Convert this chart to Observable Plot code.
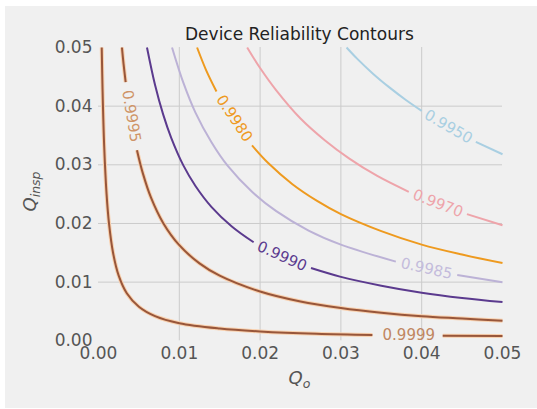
<!DOCTYPE html>
<html><head><meta charset="utf-8">
<script src="https://cdn.jsdelivr.net/npm/d3@7"></script>
<script src="https://cdn.jsdelivr.net/npm/@observablehq/plot@0.6"></script>
<style>
body{margin:0;background:#fff;width:537px;height:409px;overflow:hidden;font-family:"DejaVu Sans",sans-serif}
#fig{position:absolute;left:5px;top:6px;width:532px;height:402px;background:#f0f0f0}
</style>
</head><body><div id="fig"></div>
<script>
// ---- data (Qo, Qinsp), split where each contour label sits ----
const levels = ["0.9950","0.9970","0.9980","0.9985","0.9990","0.9995","0.9999"];
const xTicks = [0, 0.01, 0.02, 0.03, 0.04, 0.05];
const yTicks = [0, 0.01, 0.02, 0.03, 0.04, 0.05];

const r9950_before = [[0.0307,0.05],[0.032,0.0481],[0.034,0.0455],[0.036,0.0432],[0.038,0.0411],[0.04,0.0392]];
const r9950_after  = [[0.0467,0.0339],[0.05,0.0318]];
const r9970_before = [[0.0184,0.05],[0.02,0.0465],[0.022,0.0427],[0.025,0.0379],[0.028,0.0342],[0.031,0.0311],[0.0345,0.0281],[0.0384,0.0254]];
const r9970_after  = [[0.0456,0.0216],[0.05,0.0197]];
const r9980_before = [[0.0122,0.05],[0.0133,0.0462],[0.0146,0.0425]];
const r9980_after  = [[0.019,0.0333],[0.021,0.0303],[0.024,0.0267],[0.027,0.0239],[0.03,0.0216],[0.035,0.0187],[0.04,0.0164],[0.045,0.0147],[0.05,0.01325]];
const r9985_before = [[0.0091,0.05],[0.0105,0.044],[0.012,0.0389],[0.014,0.0338],[0.016,0.0298],[0.019,0.0254],[0.022,0.0221],[0.026,0.0188],[0.03,0.0164],[0.0368,0.0135]];
const r9985_after  = [[0.0444,0.0112],[0.05,0.01]];
const r9990_before = [[0.006,0.05],[0.007,0.0436],[0.008,0.0386],[0.009,0.0346],[0.0105,0.0299],[0.012,0.0264],[0.014,0.0228],[0.0165,0.0195],[0.0192,0.0168]];
const r9990_after  = [[0.0263,0.0124],[0.03,0.0109],[0.035,0.0094],[0.04,0.0082],[0.045,0.0073],[0.05,0.0066]];
const r9995_before = [[0.0029,0.05],[0.0031,0.0472],[0.00336,0.0441]];
const r9995_after  = [[0.00476,0.0325],[0.0055,0.0285],[0.0065,0.0244],[0.008,0.0201],[0.01,0.0163],[0.0125,0.0132],[0.015,0.0111],[0.02,0.0084],[0.025,0.0067],[0.03,0.0056],[0.035,0.0048],[0.04,0.0042],[0.045,0.0038],[0.05,0.0034]];
const r9999_before = [[0.0004,0.05],[0.0005,0.0429],[0.0007,0.0333],[0.001,0.025],[0.0013,0.02],[0.0018,0.015],[0.0025,0.0111],[0.0035,0.0081],[0.005,0.0058],[0.007,0.0042],[0.01,0.003],[0.015,0.0021],[0.02,0.0016],[0.027,0.0012],[0.0339,0.001]];
const r9999_after  = [[0.0426,0.00088],[0.05,0.0008]];

// label anchor points (Qo, Qinsp) on each contour
const labelQo = [0.0433, 0.042, 0.0168, 0.0406, 0.0227, 0.00406, 0.0384];
const labelQi = [0.0365, 0.0234, 0.0379, 0.0123, 0.0144, 0.0383, 0.00094];

// ---- styles ----
const lineColors  = ["#a9cfe2","#eea4aa","#ee9a1f","#bcb2d6","#5b3a8e","#98563a","#98563a"];
const labelColors = ["#a9cfe2","#eea4aa","#ee9a1f","#c4bcdc","#5b3a8e","#cf9467","#c08660"];
const labelAngle  = [30, 21, 56.7, 12.4, 24.2, 80.6, 0];
const halo        = [false,false,false,false,false,true,true];

const segments = [
  [r9950_before, r9950_after],
  [r9970_before, r9970_after],
  [r9980_before, r9980_after],
  [r9985_before, r9985_after],
  [r9990_before, r9990_after],
  [r9995_before, r9995_after],
  [r9999_before, r9999_after]
];

const marks = [
  Plot.gridX({ticks: xTicks.slice(1, -1), stroke: "#cbcbcb", strokeOpacity: 1, strokeWidth: 1}),
  Plot.gridY({ticks: yTicks.slice(1, -1), stroke: "#cbcbcb", strokeOpacity: 1, strokeWidth: 1})
];
levels.forEach((lev, i) => {
  for (const seg of segments[i]) {
    if (halo[i]) marks.push(Plot.line(seg, {x: d => d[0], y: d => d[1], stroke: "#f8d0ae", strokeWidth: 4, curve: "catmull-rom", strokeLinecap: "butt"}));
    marks.push(Plot.line(seg, {x: d => d[0], y: d => d[1], stroke: lineColors[i], strokeWidth: 2, curve: "catmull-rom", strokeLinecap: "butt"}));
  }
  marks.push(Plot.text([[labelQo[i], labelQi[i]]], {
    x: d => d[0], y: d => d[1], text: () => lev,
    rotate: labelAngle[i], fill: labelColors[i], fontSize: 15,
    textAnchor: "middle", lineAnchor: "middle"
  }));
});
marks.push(
  Plot.axisX({ticks: xTicks, tickFormat: d => d.toFixed(2), tickSize: 0, tickPadding: 6, label: null, fontSize: 17}),
  Plot.axisY({ticks: yTicks, tickFormat: d => d.toFixed(2), tickSize: 0, tickPadding: 6, label: null, fontSize: 17})
);

const svg = Plot.plot({
  width: 532, height: 402,
  marginLeft: 93, marginRight: 35, marginTop: 41, marginBottom: 67.7,
  x: {domain: [0, 0.05], label: null},
  y: {domain: [0, 0.05], label: null},
  style: {background: "transparent", color: "#555", fontFamily: "DejaVu Sans", fontSize: "17px", overflow: "visible"},
  marks
});

const s = d3.select(svg);
s.append("text").attr("x", 294.4).attr("y", 34).attr("text-anchor", "middle")
  .attr("fill", "#222").style("font-size", "17px").text("Device Reliability Contours");
const xl = s.append("text").attr("x", 294.4).attr("y", 378).attr("text-anchor", "middle")
  .attr("fill", "#555").style("font-size", "18px").style("font-style", "italic");
xl.append("tspan").text("Q");
xl.append("tspan").attr("dy", 4).style("font-size", "12.5px").text("o");
const yl = s.append("text").attr("transform", "translate(31,185.5) rotate(-90)").attr("text-anchor", "middle")
  .attr("fill", "#555").style("font-size", "18px").style("font-style", "italic");
yl.append("tspan").text("Q");
yl.append("tspan").attr("dy", 4).style("font-size", "12.5px").text("insp");

document.getElementById("fig").appendChild(svg);
</script>
</body></html>
